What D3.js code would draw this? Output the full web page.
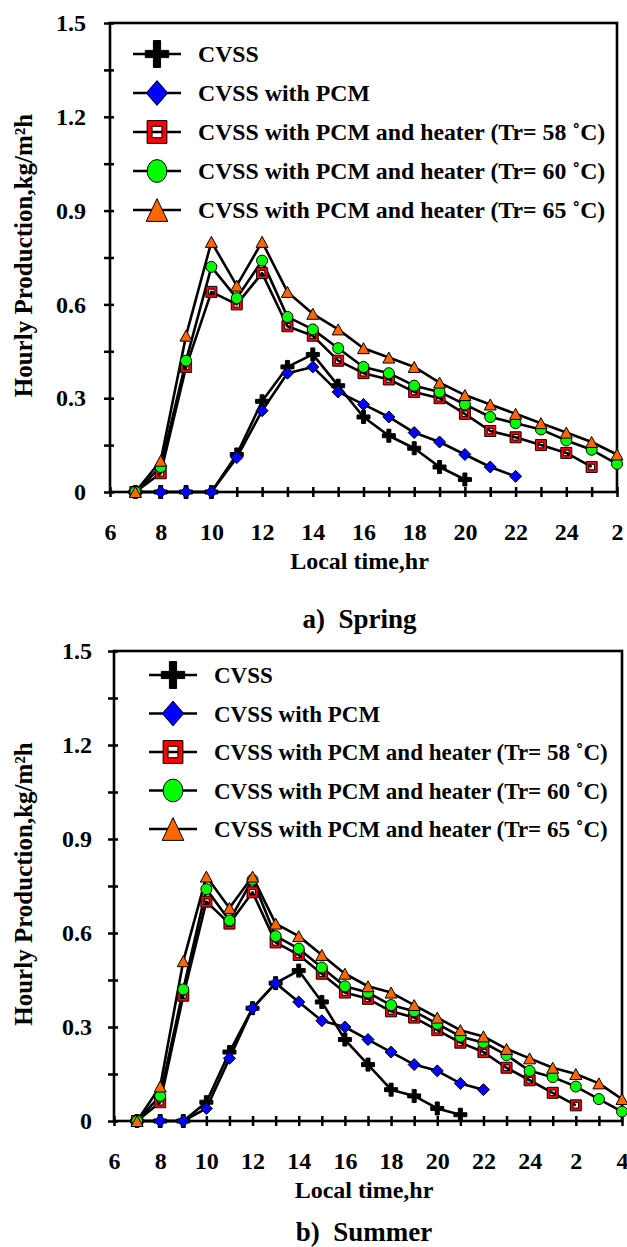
<!DOCTYPE html>
<html>
<head>
<meta charset="utf-8">
<script src="https://cdn.jsdelivr.net/npm/d3@7"></script>
<style>
  body { margin: 0; background: #fff; }
  svg text { font-family: "Liberation Serif", "Times New Roman", serif; font-weight: bold; fill: #000; }
</style>
</head>
<body>
<div id="chart"></div>
<script>
var seriesNames = ["CVSS", "CVSS with PCM", "CVSS with PCM and heater (Tr= 58 \u02daC)",
                   "CVSS with PCM and heater (Tr= 60 \u02daC)", "CVSS with PCM and heater (Tr= 65 \u02daC)"];

// spring (a)
var springHours = [7, 8, 9, 10, 11, 12, 13, 14, 15, 16, 17, 18, 19, 20, 21, 22, 23, 24, 25, 26];
var springCVSS = [0, 0, 0, 0, 0.12, 0.29, 0.40, 0.44, 0.34, 0.24, 0.18, 0.14, 0.08, 0.04];
var springPCM = [0, 0, 0, 0, 0.11, 0.26, 0.38, 0.40, 0.32, 0.28, 0.24, 0.19, 0.16, 0.12, 0.08, 0.05];
var spring58 = [0, 0.06, 0.40, 0.64, 0.60, 0.70, 0.53, 0.50, 0.42, 0.38, 0.36, 0.32, 0.30, 0.25, 0.195, 0.175, 0.15, 0.125, 0.08];
var spring60 = [0, 0.08, 0.42, 0.72, 0.62, 0.74, 0.56, 0.52, 0.46, 0.40, 0.38, 0.34, 0.32, 0.28, 0.24, 0.22, 0.20, 0.165, 0.135, 0.09];
var spring65 = [0, 0.10, 0.50, 0.80, 0.66, 0.80, 0.64, 0.57, 0.52, 0.46, 0.43, 0.40, 0.35, 0.31, 0.28, 0.25, 0.22, 0.19, 0.16, 0.12];
var springTickValues = [6, 8, 10, 12, 14, 16, 18, 20, 22, 24, 26];
var springTickLabels = ["6", "8", "10", "12", "14", "16", "18", "20", "22", "24", "2"];

// summer (b)
var summerHours = [7, 8, 9, 10, 11, 12, 13, 14, 15, 16, 17, 18, 19, 20, 21, 22, 23, 24, 25, 26, 27, 28];
var summerCVSS = [0, 0, 0, 0.06, 0.22, 0.36, 0.44, 0.48, 0.38, 0.26, 0.18, 0.10, 0.08, 0.04, 0.02];
var summerPCM = [0, 0, 0, 0.04, 0.20, 0.36, 0.44, 0.38, 0.32, 0.30, 0.26, 0.22, 0.18, 0.16, 0.12, 0.10];
var summer58 = [0, 0.06, 0.40, 0.70, 0.63, 0.73, 0.57, 0.53, 0.47, 0.41, 0.39, 0.35, 0.33, 0.29, 0.25, 0.22, 0.17, 0.13, 0.09, 0.05];
var summer60 = [0, 0.08, 0.42, 0.74, 0.64, 0.77, 0.59, 0.55, 0.49, 0.43, 0.41, 0.37, 0.35, 0.31, 0.27, 0.25, 0.21, 0.16, 0.14, 0.11, 0.07, 0.03];
var summer65 = [0, 0.11, 0.51, 0.78, 0.68, 0.78, 0.63, 0.59, 0.53, 0.47, 0.43, 0.41, 0.37, 0.33, 0.29, 0.27, 0.23, 0.20, 0.17, 0.15, 0.12, 0.07];
var summerTickValues = [6, 8, 10, 12, 14, 16, 18, 20, 22, 24, 26, 28];
var summerTickLabels = ["6", "8", "10", "12", "14", "16", "18", "20", "22", "24", "2", "4"];

var yMinorTicks = [0, 0.15, 0.3, 0.45, 0.6, 0.75, 0.9, 1.05, 1.2, 1.35, 1.5];
var yLabelTicks = [0, 0.3, 0.6, 0.9, 1.2, 1.5];

// marker shapes, w x h box centred on the point
function crossPath(w, h, t) {
    var a = w / 2, b = h / 2, c = t / 2;
    return `M${-c},${-b}H${c}V${-c}H${a}V${c}H${c}V${b}H${-c}V${c}H${-a}V${-c}H${-c}Z`;
}
function diamondPath(w, h) {
    return `M0,${-h / 2}L${w / 2},0L0,${h / 2}L${-w / 2},0Z`;
}
function squarePath(w, h) {
    var a = w / 2, b = h / 2, c = w / 4, d = h / 4;
    return `M${-a},${-b}H${a}V${b}H${-a}Z M${-c},${-d}V${d}H${c}V${-d}Z`;
}
function circlePath(w, h) {
    var a = w / 2, b = h / 2;
    return `M${-a},0A${a},${b} 0 1 0 ${a},0A${a},${b} 0 1 0 ${-a},0Z`;
}
function trianglePath(w, h) {
    return `M0,${-h / 2}L${w / 2},${h / 2}L${-w / 2},${h / 2}Z`;
}

// k = scale, legend markers are a bit taller than wide
var markers = [
    { path: (k, r) => crossPath(13 * k, 13 * k * r, 4 * k), fill: "#000" },
    { path: (k, r) => diamondPath(12 * k, 12 * k * r), fill: "#0000ff" },
    { path: (k, r) => squarePath(11 * k, 11 * k * r), fill: "#ff0000" },
    { path: (k, r) => circlePath(11 * k, 11 * k * r), fill: "#00ff00" },
    { path: (k, r) => trianglePath(12 * k, 11 * k * r), fill: "#ff6600" }
];

var svg = d3.select('#chart').append('svg')
    .attr('width', 627)
    .attr('height', 1247);

function drawPanel(p) {
    const x = d3.scaleLinear().domain(p.xDomain).range([p.left, p.right]);
    const y = d3.scaleLinear().domain([0, 1.5]).range([p.bottom, p.top]);
    let g = svg.append('g');

    // hourly ticks crossing the x axis
    let xt = g.append('g')
        .attr('transform', `translate(0, ${p.bottom})`)
        .call(d3.axisBottom(x).tickValues(d3.range(p.xDomain[0], p.xDomain[1] + 1)).tickSize(10).tickFormat(''));
    xt.select('.domain').remove();
    xt.selectAll('.tick line').attr('y1', -5).attr('y2', 5).attr('stroke-width', 2.5);

    let xl = g.append('g')
        .attr('transform', `translate(0, ${p.bottom})`)
        .call(d3.axisBottom(x).tickValues(p.tickValues).tickSize(0).tickPadding(31)
            .tickFormat((d, i) => p.tickLabels[i]));
    xl.attr('font-size', 24);
    xl.select('.domain').remove();

    let yt = g.append('g')
        .attr('transform', `translate(${p.left}, 0)`)
        .call(d3.axisLeft(y).tickValues(yMinorTicks).tickSize(10).tickFormat(''));
    yt.select('.domain').remove();
    yt.selectAll('.tick line').attr('x1', -6).attr('x2', 4).attr('stroke-width', 2.5);

    let yl = g.append('g')
        .attr('transform', `translate(${p.left}, 0)`)
        .call(d3.axisLeft(y).tickValues(yLabelTicks).tickSize(0).tickPadding(p.labelGap)
            .tickFormat((d) => d == 0 ? "0" : d3.format(".1f")(d)));
    yl.attr('font-size', 24);
    yl.select('.domain').remove();

    // frame
    g.append('rect')
        .attr('x', p.left).attr('y', p.top)
        .attr('width', p.right - p.left).attr('height', p.bottom - p.top)
        .attr('fill', 'none').attr('stroke', '#000').attr('stroke-width', 2.6);

    // lines first, then markers
    p.series.forEach((vals) => {
        g.append('path')
            .datum(vals)
            .attr('fill', 'none')
            .attr('stroke', '#000')
            .attr('stroke-width', 2.6)
            .attr('stroke-linejoin', 'round')
            .attr('d', d3.line().x((d, i) => x(p.hours[i])).y((d) => y(d)));
    });
    p.series.forEach((vals, s) => {
        g.append('g').selectAll('path')
            .data(vals)
            .enter()
            .append('path')
                .attr('transform', (d, i) => `translate(${x(p.hours[i])}, ${y(d)})`)
                .attr('d', markers[s].path(1, 1))
                .attr('fill', markers[s].fill)
                .attr('fill-rule', 'evenodd')
                .attr('stroke', '#000')
                .attr('stroke-width', 1);
    });

    // legend
    seriesNames.forEach((name, i) => {
        let ry = p.legendY + i * p.legendStep;
        g.append('line')
            .attr('x1', p.legendX - 24).attr('x2', p.legendX + 24)
            .attr('y1', ry).attr('y2', ry)
            .attr('stroke', '#000').attr('stroke-width', 2.6);
        g.append('path')
            .attr('transform', `translate(${p.legendX}, ${ry})`)
            .attr('d', markers[i].path(1.8, 1.15))
            .attr('fill', markers[i].fill)
            .attr('fill-rule', 'evenodd')
            .attr('stroke', '#000')
            .attr('stroke-width', 1);
        g.append('text')
            .attr('x', p.legendX + 41)
            .attr('y', ry)
            .attr('dy', '0.35em')
            .attr('font-size', p.legendFont)
            .text(name);
    });

    // axis titles
    let cy = (p.top + p.bottom) / 2;
    g.append('text')
        .attr('transform', `translate(23, ${cy - 2}) rotate(-90)`)
        .attr('text-anchor', 'middle')
        .attr('dy', '0.35em')
        .attr('font-size', 25)
        .text('Hourly Production,kg/m\u00b2h');

    let cx = (p.left + p.right) / 2 - 4;
    g.append('text')
        .attr('x', cx).attr('y', p.bottom + 77)
        .attr('text-anchor', 'middle')
        .attr('font-size', 24)
        .text('Local time,hr');

    g.append('text')
        .attr('x', cx).attr('y', p.bottom + p.subGap)
        .attr('text-anchor', 'middle')
        .attr('font-size', 27)
        .style('white-space', 'pre')
        .text(p.subtitle);
}

drawPanel({
    left: 110, right: 617, top: 23, bottom: 492,
    xDomain: [6, 26], hours: springHours,
    tickValues: springTickValues, tickLabels: springTickLabels,
    series: [springCVSS, springPCM, spring58, spring60, spring65],
    labelGap: 24, legendX: 157, legendY: 54, legendStep: 39, legendFont: 23.8,
    subtitle: 'a)  Spring', subGap: 136
});

drawPanel({
    left: 114, right: 622, top: 651, bottom: 1121,
    xDomain: [6, 28], hours: summerHours,
    tickValues: summerTickValues, tickLabels: summerTickLabels,
    series: [summerCVSS, summerPCM, summer58, summer60, summer65],
    labelGap: 22, legendX: 173, legendY: 675, legendStep: 38.5, legendFont: 23,
    subtitle: 'b)  Summer', subGap: 120
});
</script>
</body>
</html>
